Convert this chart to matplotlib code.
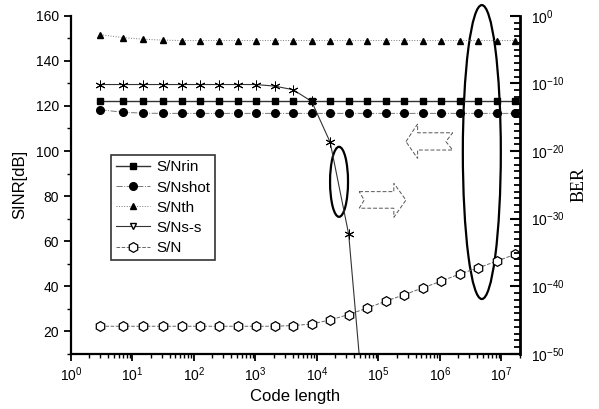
import numpy as np
import matplotlib
matplotlib.use("Agg")
import matplotlib.pyplot as plt
from matplotlib.patches import Ellipse, Polygon
from matplotlib.ticker import FixedLocator, NullFormatter, MultipleLocator

plt.rcParams['font.family'] = ['Liberation Sans', 'DejaVu Sans']
plt.rcParams['mathtext.fontset'] = 'custom'
plt.rcParams['mathtext.rm'] = 'Liberation Sans'
plt.rcParams['mathtext.it'] = 'Liberation Sans'

# code length = 2^n - 1, n = 2..24
n_bits = np.arange(2, 25)
code_len = 2.0 ** n_bits - 1

snr_rin = [122.0] * 23
snr_shot = [118.3, 117.2, 116.8] + [116.7] * 20
snr_th = [151.6, 150.3, 149.6, 149.2] + [149.0] * 19
snr_total = [22.3] * 10 + [22.6, 23.3, 25.1, 27.5, 30.4, 33.4, 36.3,
                           39.3, 42.3, 45.5, 48.2, 51.2, 54.2]
# BER curve drawn against the left scale (asterisks), n = 2..16
ber_curve = [129.5] * 9 + [128.8, 127.2, 122.0, 103.9, 63.1, -31.0]

fig = plt.figure(figsize=(5.99, 4.09), dpi=100)
ax = fig.add_axes([0.1185, 0.1345, 0.7496, 0.827])

ax.plot(code_len, snr_rin, '-', color='#333333', lw=1.0, marker='s', ms=5,
        mfc='black', mec='black', label='S/Nrin')
ax.plot(code_len, snr_shot, '-.', color='#777777', lw=0.7, marker='o', ms=5.5,
        mfc='black', mec='black', label='S/Nshot')
ax.plot(code_len, snr_th, ':', color='#777777', lw=0.7, marker='^', ms=5,
        mfc='black', mec='black', label='S/Nth')
ax.plot([], [], '-', color='#333333', lw=0.8, marker='v', ms=5,
        mfc='white', mec='black', label='S/Ns-s')
ax.plot(code_len, snr_total, '--', color='#666666', lw=0.7, marker='h', ms=7,
        mfc='white', mec='black', mew=0.9, label='S/N')
ax.plot(code_len[:len(ber_curve)], ber_curve, '-', color='#333333', lw=0.8,
        marker=(6, 2, 0), ms=7, mec='black', mew=0.7)

ax.set_xscale('log')
ax.set_xlim(1, 2e7)
ax.set_ylim(10, 160)
ax.yaxis.set_major_locator(FixedLocator([20, 40, 60, 80, 100, 120, 140, 160]))
ax.yaxis.set_minor_locator(MultipleLocator(10))
ax.set_xticks([10.0 ** k for k in range(0, 8)])
ax.tick_params(axis='both', which='major', direction='out', length=5, width=1.3,
               labelsize=10)
ax.tick_params(axis='both', which='minor', direction='out', length=3, width=1.0)
ax.spines['top'].set_visible(False)
ax.spines['right'].set_visible(False)
for s in ['left', 'bottom']:
    ax.spines[s].set_linewidth(1.6)
ax.set_xlabel('Code length', fontsize=12, labelpad=3)
ax.set_ylabel('SINR[dB]', fontsize=12, labelpad=6)

leg = ax.legend(loc='upper left', bbox_to_anchor=(0.089, 0.588), fontsize=11,
                frameon=True, fancybox=False, edgecolor='black',
                borderaxespad=0, handlelength=2.2, handletextpad=0.4,
                borderpad=0.35, labelspacing=0.4)
leg.get_frame().set_linewidth(1.2)

ax2 = ax.twinx()
ax2.set_yscale('log')
ax2.set_ylim(1e-50, 1e0)
ax2.yaxis.set_major_locator(FixedLocator([10.0 ** k for k in range(-50, 1, 10)]))
ax2.yaxis.set_minor_locator(FixedLocator([10.0 ** k for k in range(-50, 1)]))
ax2.yaxis.set_minor_formatter(NullFormatter())
ax2.tick_params(axis='y', which='major', direction='in', length=7, width=1.5,
                labelsize=10, pad=8)
ax2.tick_params(axis='y', which='minor', direction='in', length=4, width=1.3)
ax2.spines['top'].set_visible(False)
ax2.spines['left'].set_visible(False)
ax2.spines['bottom'].set_visible(False)
ax2.spines['right'].set_linewidth(2.0)
ax2.set_ylabel('BER', fontsize=13, family='Liberation Serif', labelpad=4)

# annotations: ellipses and hollow dashed arrows
ax.add_patch(Ellipse((0.915, 0.597), 0.0846, 0.869, transform=ax.transAxes,
                     fill=False, lw=1.6, ec='black', clip_on=False))
ax.add_patch(Ellipse((0.597, 0.509), 0.040, 0.207, transform=ax.transAxes,
                     fill=False, lw=1.6, ec='black', clip_on=False))
left_arrow = [(0.746, 0.628), (0.772, 0.680), (0.772, 0.654), (0.850, 0.654),
              (0.835, 0.628), (0.850, 0.603), (0.772, 0.603), (0.772, 0.578)]
right_arrow = [(0.642, 0.480), (0.719, 0.480), (0.719, 0.505), (0.746, 0.455),
               (0.719, 0.404), (0.719, 0.431), (0.642, 0.431), (0.653, 0.455)]
for pts in (left_arrow, right_arrow):
    ax.add_patch(Polygon(pts, closed=True, fill=False, transform=ax.transAxes,
                         ls=(0, (4, 2)), lw=0.7, ec='#555555'))

fig.savefig('out.png', dpi=100)
